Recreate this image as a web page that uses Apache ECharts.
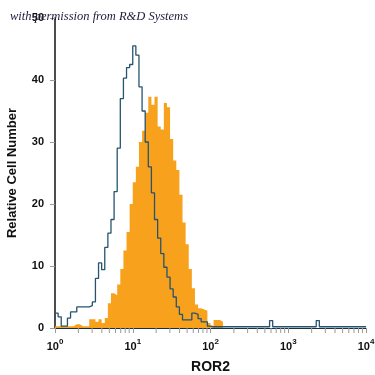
<!DOCTYPE html>
<html>
<head>
<meta charset="utf-8">
<script src="https://cdn.jsdelivr.net/npm/echarts@6/dist/echarts.min.js"></script>
<style>html,body{margin:0;padding:0;background:#fff;}#c{width:375px;height:375px;}</style>
</head>
<body>
<div id="c"></div>
<script>
// Histogram bins: each bin spans 0.04 decade, from 10^0 to 10^4 (100 bins)
const binLogWidth = 0.04;
const xTickExponents = [0, 1, 2, 3, 4];
const yTicks = [0, 10, 20, 30, 40, 50];

// Blue outlined histogram (isotype control)
const controlCounts = [
  2.4, 1.8, 0.3, 0.3, 1.6, 2.6, 2.6, 3.4, 3.4, 3.4,
  3.4, 3.6, 4.2, 8.0, 10.5, 9.4, 13.0, 15.3, 17.5, 22.0,
  29.0, 37.0, 40.3, 42.0, 42.5, 45.5, 44.0, 38.9, 35.0, 30.0,
  26.0, 21.8, 17.5, 14.5, 12.0, 9.8, 8.2, 6.3, 5.0, 3.4,
  2.2, 1.3, 1.3, 1.3, 2.4, 2.2, 1.5, 1.0, 1.0, 0.3,
  0.2, 0.2, 0.2, 0.2, 0.2, 0.2, 0.2, 0.2, 0.2, 0.2,
  0.2, 0.2, 0.2, 0.2, 0.2, 0.2, 0.2, 0.2, 0.2, 1.2,
  0.2, 0.2, 0.2, 0.2, 0.2, 0.2, 0.2, 0.2, 0.2, 0.2,
  0.2, 0.2, 0.2, 0.2, 1.2, 0.2, 0.2, 0.2, 0.2, 0.2,
  0.2, 0.2, 0.2, 0.2, 0.2, 0.2, 0.2, 0.2, 0.2, 0.2
];

// Orange filled histogram (ROR2 antibody)
const ror2Counts = [
  0.3, 0.3, 0.3, 0.3, 0.3, 0.3, 0.6, 0.6, 0.3, 0.3,
  0.3, 1.4, 1.4, 1.0, 1.4, 0.8, 1.6, 4.0, 5.6, 5.3,
  7.0, 9.5, 12.5, 15.5, 20.0, 23.5, 26.0, 30.0, 31.8, 34.7,
  37.3, 36.0, 37.3, 32.5, 32.0, 36.3, 35.6, 30.5, 27.0, 25.5,
  21.5, 17.0, 13.5, 9.5, 6.4, 3.8, 3.2, 3.0, 2.8, 0.8,
  0.3, 1.3, 1.3, 1.0, 0, 0, 0, 0, 0, 0,
  0, 0, 0, 0, 0, 0, 0, 0, 0, 0,
  0, 0, 0, 0, 0, 0, 0, 0, 0, 0,
  0, 0, 0, 0, 0, 0, 0, 0, 0, 0,
  0, 0, 0, 0, 0, 0, 0, 0, 0, 0
];

function toSteps(counts) {
  const pts = counts.map((v, i) => [Math.pow(10, i * binLogWidth), v]);
  pts.push([Math.pow(10, counts.length * binLogWidth), counts[counts.length - 1]]);
  return pts;
}

const minorTicks = [];
for (let e = 0; e < 4; e++) for (let m = 2; m <= 9; m++) minorTicks.push([m * Math.pow(10, e), 0]);

const FONT = '"Liberation Sans Narrow", "Liberation Sans", Arial, sans-serif';

const chart = echarts.init(document.getElementById('c'), null, {renderer: 'canvas'});
chart.setOption({
  animation: false,
  backgroundColor: '#fff',
  grid: {left: 55, right: 9, top: 18, bottom: 47, containLabel: false, outerBoundsMode: 'none'},
  xAxis: {
    type: 'log', logBase: 10, min: 1, max: 10000,
    name: 'ROR2', nameLocation: 'middle', nameGap: 32,
    nameTextStyle: {fontFamily: FONT, fontWeight: 'bold', fontSize: 14, color: '#111'},
    axisLine: {lineStyle: {color: '#1c2f3a', width: 1}},
    axisTick: {show: true, length: 5, lineStyle: {color: '#999'}},
    splitLine: {show: false},
    axisLabel: {
      margin: 10,
      formatter: function (v) {
        const e = Math.round(Math.log10(v));
        return '{b|10}{s|' + e + '}';
      },
      rich: {
        b: {fontFamily: FONT, fontSize: 11, fontWeight: 'bold', color: '#111', lineHeight: 14, verticalAlign: 'bottom'},
        s: {fontFamily: FONT, fontSize: 8, fontWeight: 'bold', color: '#111', lineHeight: 8, verticalAlign: 'top'}
      }
    }
  },
  yAxis: {
    type: 'value', min: 0, max: 50, interval: 10,
    name: 'Relative Cell Number', nameLocation: 'middle', nameGap: 36, nameRotate: 90,
    nameTextStyle: {fontFamily: FONT, fontWeight: 'bold', fontSize: 13, color: '#111'},
    axisLine: {show: true, lineStyle: {color: '#111', width: 1.5}},
    axisTick: {show: true, length: 5, lineStyle: {color: '#999'}},
    splitLine: {show: false},
    axisLabel: {margin: 11, fontFamily: FONT, fontWeight: 'bold', fontSize: 11, color: '#111'}
  },
  graphic: [{
    type: 'text', left: 10, top: 10, z: 100,
    style: {text: 'with permission from R&D Systems', font: 'italic 12.5px "Liberation Serif", "DejaVu Serif", serif', fill: '#1c1c3c'}
  }],
  series: [
    {
      type: 'line', step: 'end', data: toSteps(ror2Counts), symbol: 'none',
      lineStyle: {width: 0}, areaStyle: {color: '#f8a11c', opacity: 1}, z: 2
    },
    {
      type: 'line', step: 'end', data: toSteps(controlCounts), symbol: 'none',
      lineStyle: {width: 1.3, color: '#27536f'}, z: 3
    },
    {
      type: 'custom', data: minorTicks, clip: false, silent: true, z: 4,
      renderItem: function (params, api) {
        const p = api.coord([api.value(0), 0]);
        return {type: 'line', shape: {x1: p[0], y1: p[1], x2: p[0], y2: p[1] + 5}, style: {stroke: '#999', lineWidth: 1}};
      }
    }
  ]
});
</script>
</body>
</html>
